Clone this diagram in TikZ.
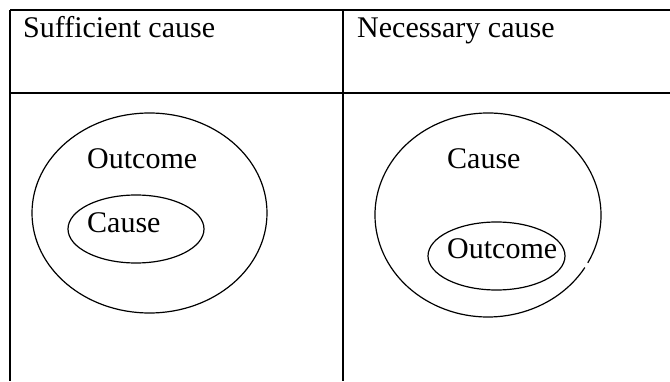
\documentclass[tikz,border=0pt]{standalone}
\usepackage{fontspec}
\setmainfont{Liberation Serif}
\usetikzlibrary{shapes.geometric}

\tikzset{
  rule/.style={line width=2.4pt},
  setline/.style={line width=1.2pt},
  label/.style={inner sep=0pt, anchor=base west, font=\fontsize{30}{36}\selectfont},
  setbox/.style={ellipse, draw, setline, inner sep=0pt},
}

\begin{document}
\begin{tikzpicture}[x=1pt, y=1pt]
  \useasboundingbox (0,0) rectangle (670,381);

  % table rules: open on the right and at the bottom
  \coordinate (tl) at (10,371);
  \coordinate (tr) at (670,371);
  \coordinate (ml) at (10,288);
  \coordinate (mr) at (670,288);
  \coordinate (bl) at (10,0);
  \coordinate (ct) at (343,371);
  \coordinate (cb) at (343,0);
  \draw[rule] (tl) -- (tr);
  \draw[rule] (ml) -- (mr);
  \draw[rule] (tl) -- (bl);
  \draw[rule] (ct) -- (cb);

  % column headings
  \node[label] (hSuff) at (23,343) {Sufficient cause};
  \node[label] (hNec) at (357,343) {Necessary cause};

  % sufficient cause: the cause lies inside the outcome
  \node[setbox, minimum width=235pt, minimum height=200pt] (suffOuter) at (149.5,168) {};
  \node[setbox, minimum width=136pt, minimum height=68pt] (suffInner) at (136,152) {};
  \node[label] (suffOutcome) at (87,212) {Outcome};
  \node[label] (suffCause) at (87,149) {Cause};

  % necessary cause: the outcome lies inside the cause (outer ring has a small break)
  \coordinate (necOuterC) at (488,166);
  \draw[setline] ([shift={(-28:113pt and 102pt)}]necOuterC)
    arc[start angle=-28, end angle=329, x radius=113pt, y radius=102pt];
  \node[setbox, minimum width=137pt, minimum height=68pt] (necInner) at (496.5,125) {};
  \node[label] (necCause) at (447,212) {Cause};
  \node[label] (necOutcome) at (447,123) {Outcome};
\end{tikzpicture}
\end{document}
